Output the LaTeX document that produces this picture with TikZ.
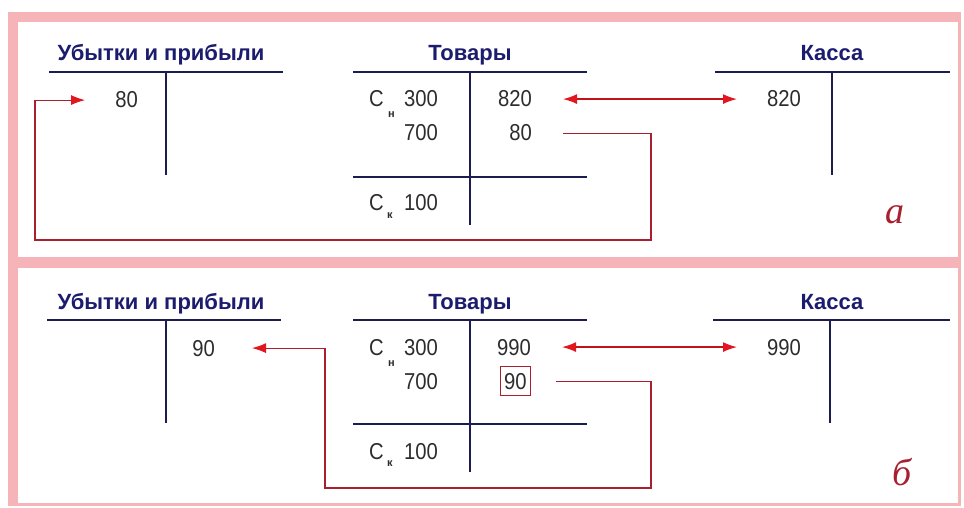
\documentclass[tikz,border=0pt]{standalone}
\usepackage{fontspec}
\setmainfont{Liberation Sans}
\newfontfamily\numfont[FakeStretch=0.88]{Liberation Sans}
\newfontfamily\labfont{Liberation Serif}
\usetikzlibrary{arrows.meta,positioning}

\definecolor{framepink}{RGB}{246,180,184}
\definecolor{acctblue}{RGB}{28,28,80}
\definecolor{titleblue}{RGB}{28,28,110}
\definecolor{linkred}{RGB}{168,32,48}
\definecolor{tipred}{RGB}{226,22,30}
\definecolor{numgray}{RGB}{45,45,45}

\tikzset{
  acctitle/.style={font=\bfseries\fontsize{22}{24}\selectfont, text=titleblue, inner sep=0pt, anchor=base},
  num/.style={font=\numfont\fontsize{23}{26}\selectfont, text=numgray, inner sep=0pt},
  sub/.style={font=\bfseries\fontsize{11}{12}\selectfont, text=numgray, inner sep=0pt, anchor=base west},
  acct/.style={acctblue, line width=1.6pt},
  link/.style={linkred, line width=1.1pt},
  tip/.style={-{Latex[length=14pt,width=10pt,color=tipred]}},
  dbl/.style={{Latex[length=14pt,width=10pt,color=tipred]}-{Latex[length=14pt,width=10pt,color=tipred]}, draw=tipred!85!black, line width=1.5pt},
  panel/.style={font=\labfont\itshape\fontsize{38}{40}\selectfont, text=linkred, inner sep=0pt, anchor=base}
}

\begin{document}
\begin{tikzpicture}[x=1pt,y=-1pt]
  \fill[white] (0,0) rectangle (964,508);
  \fill[framepink] (8,12) rectangle (961,506);
  \fill[white] (18,22) rectangle (958,257);
  \fill[white] (18,268) rectangle (958,503);

  % --- a ---
  \node[acctitle] (ubA) at (161,61) {Убытки и прибыли};
  \node[acctitle] (tovA) at (470,61) {Товары};
  \node[acctitle] (kasA) at (832,61) {Касса};
  \draw[acct] (49,72) -- (283,72);
  \draw[acct] (166,72) -- (166,175);
  \draw[acct] (353,72) -- (587,72);
  \draw[acct] (353,177) -- (587,177);
  \draw[acct] (470,72) -- (470,225);
  \draw[acct] (715,72) -- (950,72);
  \draw[acct] (832,72) -- (832,175);

  \node[num,anchor=base east] (uA80) at (138,108) {80};
  \node[num,anchor=base west] (cnA) at (369,107) {С};
  \node[sub] at (388,118) {н};
  \node[num,anchor=base east] (tA300) at (438,107) {300};
  \node[num,anchor=base east] (tA700) at (438,141) {700};
  \node[num,anchor=base west] (ckA) at (369,211) {С};
  \node[sub] at (387,218) {к};
  \node[num,anchor=base east] (tA100) at (438,211) {100};
  \node[num,anchor=base east] (tA820) at (532,107) {820};
  \node[num,anchor=base east] (tA80) at (532,141) {80};
  \node[num,anchor=base west] (kA820) at (767,107) {820};
  \node[panel] (lblA) at (895,223) {a};

  \draw[dbl] ([xshift=31pt]tA820.east) -- ([xshift=-30pt]kA820.west);
  \draw[link,tip] ([xshift=31pt]tA80.east) -| (651,240) -- (35,240) |- ([xshift=-30pt]uA80.west);

  % --- б ---
  \node[acctitle] (ubB) at (161,309) {Убытки и прибыли};
  \node[acctitle] (tovB) at (470,309) {Товары};
  \node[acctitle] (kasB) at (832,309) {Касса};
  \draw[acct] (47,320) -- (281,320);
  \draw[acct] (166,320) -- (166,423);
  \draw[acct] (353,320) -- (587,320);
  \draw[acct] (353,424) -- (587,424);
  \draw[acct] (470,320) -- (470,472);
  \draw[acct] (713,320) -- (950,320);
  \draw[acct] (830,320) -- (830,423);

  \node[num,anchor=base east] (uB90) at (215,356) {90};
  \node[num,anchor=base west] (cnB) at (369,355) {С};
  \node[sub] at (388,366) {н};
  \node[num,anchor=base east] (tB300) at (438,355) {300};
  \node[num,anchor=base east] (tB700) at (438,389) {700};
  \node[num,anchor=base west] (ckB) at (369,459) {С};
  \node[sub] at (387,466) {к};
  \node[num,anchor=base east] (tB100) at (438,459) {100};
  \node[num,anchor=base east] (tB990) at (531,355) {990};
  \node[num,anchor=base east,draw=linkred,line width=0.9pt,inner xsep=4pt,inner ysep=6pt] (tB90) at (531,389) {90};
  \node[num,anchor=base west] (kB990) at (767,355) {990};
  \node[panel] (lblB) at (902,485) {б};

  \draw[dbl] ([xshift=31pt]tB990.east) -- ([xshift=-30pt]kB990.west);
  \draw[link,tip] ([xshift=25pt]tB90.east) -| (651,488) -- (325,488) |- ([xshift=37pt]uB90.east);
\end{tikzpicture}
\end{document}
